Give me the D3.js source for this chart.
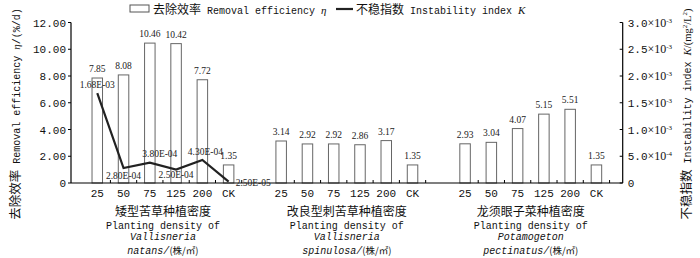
<!DOCTYPE html>
<html><head><meta charset="utf-8">
<script src="https://cdn.jsdelivr.net/npm/d3@7"></script>
<style>
html,body{margin:0;padding:0;background:#fff;}
svg{display:block;}
</style></head>
<body>
<svg id="chart" width="700" height="258"></svg>
<script>
// ---------------- data ----------------
const densities = ["25", "50", "75", "125", "200", "CK"];
const groupNames = [
  ["矮型苦草种植密度", "Planting density of", "Vallisneria", "natans"],
  ["改良型刺苦草种植密度", "Planting density of", "Vallisneria", "spinulosa"],
  ["龙须眼子菜种植密度", "Planting density of", "Potamogeton", "pectinatus"]
];
const removalVN = [7.85, 8.08, 10.46, 10.42, 7.72, 1.35];
const removalVS = [3.14, 2.92, 2.92, 2.86, 3.17, 1.35];
const removalPP = [2.93, 3.04, 4.07, 5.15, 5.51, 1.35];
const instabilityVN = [1.68e-3, 2.8e-4, 3.8e-4, 2.5e-4, 4.3e-4, 2.5e-5];
const instabilityLabels = ["1.68E-03", "2.80E-04", "3.80E-04", "2.50E-04", "4.30E-04", "2.50E-05"];
const leftTicks = [0, 2, 4, 6, 8, 10, 12];
const leftTickLabels = ["0", "2.00", "4.00", "6.00", "8.00", "10.00", "12.00"];
const rightTicks = [0, 5e-4, 1e-3, 1.5e-3, 2e-3, 2.5e-3, 3e-3];
const rightTickMant = ["0", "5.0", "1.0", "1.5", "2.0", "2.5", "3.0"];
const rightTickExp = ["", "-4", "-3", "-3", "-3", "-3", "-3"];

// ---------------- layout ----------------
const svg = d3.select("#chart");
const MONO = "'Liberation Mono','DejaVu Sans Mono',monospace";
const SERIF = "'Liberation Serif','DejaVu Serif',serif";
const CJK = "'Noto Sans CJK SC',sans-serif";
const x0 = 71, x1 = 622.7, yBase = 183, yTop = 22.5;

const removal = [removalVN, removalVS, removalPP];
// slot keys: blank, 6 bars, blank, 6 bars, blank, 6 bars, blank
const keys = [];
keys.push("b0");
removal.forEach((g, gi) => {
  densities.forEach(d => keys.push("g" + gi + "-" + d));
  keys.push("b" + (gi + 1));
});
const x = d3.scalePoint().domain(keys).range([x0, x1]);
const step = x.step();
const yL = d3.scaleLinear().domain([0, 12]).range([yBase, yTop]);
const yR = d3.scaleLinear().domain([0, 3e-3]).range([yBase, yTop]);

const bars = [];
removal.forEach((g, gi) => g.forEach((v, i) => bars.push({key: "g" + gi + "-" + densities[i], v, d: densities[i]})));

// bars
const barW = 10.5;
svg.append("g").selectAll("rect").data(bars).join("rect")
  .attr("x", d => x(d.key) - barW / 2)
  .attr("y", d => yL(d.v))
  .attr("width", barW)
  .attr("height", d => yBase - yL(d.v))
  .attr("fill", "#fff")
  .attr("stroke", "#666")
  .attr("stroke-width", 1);

// bar value labels
svg.append("g").selectAll("text").data(bars).join("text")
  .attr("x", d => x(d.key))
  .attr("y", d => yL(d.v) - 6)
  .attr("text-anchor", "middle")
  .attr("font-family", SERIF)
  .attr("font-size", 9.5)
  .attr("fill", "#222")
  .text(d => d.v.toFixed(2));

// x axis line
svg.append("line").attr("x1", x0).attr("x2", x1).attr("y1", yBase).attr("y2", yBase)
  .attr("stroke", "#000").attr("stroke-width", 1.2);
// x ticks between categories (inside)
svg.append("g").selectAll("line").data(bars).join("line")
  .attr("x1", d => x(d.key) + step / 2).attr("x2", d => x(d.key) + step / 2)
  .attr("y1", yBase).attr("y2", yBase - 3)
  .attr("stroke", "#000").attr("stroke-width", 1);
// x tick labels
svg.append("g").selectAll("text").data(bars).join("text")
  .attr("x", d => x(d.key)).attr("y", yBase + 14)
  .attr("text-anchor", "middle")
  .attr("font-family", MONO).attr("font-size", 11).attr("fill", "#111")
  .text(d => d.d);

// left axis
svg.append("line").attr("x1", x0).attr("x2", x0).attr("y1", yBase).attr("y2", yL(12))
  .attr("stroke", "#000").attr("stroke-width", 1.2);
svg.append("g").selectAll("line").data(leftTicks).join("line")
  .attr("x1", x0 - 3).attr("x2", x0).attr("y1", d => yL(d)).attr("y2", d => yL(d))
  .attr("stroke", "#000");
svg.append("g").selectAll("text").data(leftTicks).join("text")
  .attr("x", x0 - 5).attr("y", d => yL(d) + 4)
  .attr("text-anchor", "end")
  .attr("font-family", MONO).attr("font-size", 11).attr("fill", "#111")
  .text((d, i) => leftTickLabels[i]);

// right axis
svg.append("line").attr("x1", x1).attr("x2", x1).attr("y1", yBase).attr("y2", yR(3e-3))
  .attr("stroke", "#000").attr("stroke-width", 1.2);
svg.append("g").selectAll("line").data(rightTicks).join("line")
  .attr("x1", x1 - 3).attr("x2", x1).attr("y1", d => yR(d)).attr("y2", d => yR(d))
  .attr("stroke", "#000");
const rt = svg.append("g").selectAll("text").data(rightTicks).join("text")
  .attr("x", x1 + 5).attr("y", d => yR(d) + 4)
  .attr("font-family", MONO).attr("font-size", 11).attr("fill", "#111");
rt.each(function(d, i) {
  const t = d3.select(this);
  t.append("tspan").text(rightTickMant[i]);
  if (rightTickExp[i]) {
    t.append("tspan").attr("font-family", SERIF).attr("font-size", 12).text("×10");
    t.append("tspan").attr("font-size", 7).attr("dy", -4).attr("font-family", SERIF).text(rightTickExp[i]);
  }
});

// instability line
const pts = instabilityVN.map((v, i) => ({x: x("g0-" + densities[i]), y: yR(v), lab: instabilityLabels[i]}));
svg.append("path").datum(pts)
  .attr("d", d3.line().x(d => d.x).y(d => d.y))
  .attr("fill", "none").attr("stroke", "#222").attr("stroke-width", 2.2);
const place = [[0, -5, "middle"], [0, 11, "middle"], [10, -6, "middle"], [0, 8, "middle"], [3, -5, "middle"], [7, 4, "start"]];
svg.append("g").selectAll("text").data(pts).join("text")
  .attr("x", (d, i) => d.x + place[i][0])
  .attr("y", (d, i) => d.y + place[i][1])
  .attr("text-anchor", (d, i) => place[i][2])
  .attr("font-family", SERIF).attr("font-size", 9.5).attr("fill", "#222")
  .text(d => d.lab);

// group titles
groupNames.forEach((g, gi) => {
  const cx = (x("g" + gi + "-25") + x("g" + gi + "-CK")) / 2;
  const t = svg.append("g").attr("text-anchor", "middle").attr("fill", "#111");
  t.append("text").attr("x", cx).attr("y", 216).attr("font-family", CJK).attr("font-size", 12).text(g[0]);
  t.append("text").attr("x", cx).attr("y", 229).attr("font-family", MONO).attr("font-size", 10).text(g[1]);
  t.append("text").attr("x", cx).attr("y", 240).attr("font-family", MONO).attr("font-size", 10).attr("font-style", "italic").text(g[2]);
  const l4 = t.append("text").attr("x", cx).attr("y", 253.5).attr("font-family", MONO).attr("font-size", 10);
  l4.append("tspan").attr("font-style", "italic").text(g[3] + "/");
  l4.append("tspan").attr("font-family", CJK).attr("font-size", 9.5).text("(株/㎡)");
});

// axis titles
const lt = svg.append("text").attr("transform", "translate(20,114) rotate(-90)")
  .attr("text-anchor", "middle").attr("fill", "#111").attr("font-family", MONO).attr("font-size", 10);
lt.append("tspan").attr("font-family", CJK).attr("font-size", 12.5).text("去除效率");
lt.append("tspan").text(" Removal efficiency  ");
lt.append("tspan").attr("font-family", SERIF).attr("font-style", "italic").attr("font-size", 11).text("η");
lt.append("tspan").text("/(%/d)");

const rtt = svg.append("text").attr("transform", "translate(691,114) rotate(-90)")
  .attr("text-anchor", "middle").attr("fill", "#111").attr("font-family", MONO).attr("font-size", 10);
rtt.append("tspan").attr("font-family", CJK).attr("font-size", 12.5).text("不稳指数");
rtt.append("tspan").text(" Instability index ");
rtt.append("tspan").attr("font-family", SERIF).attr("font-style", "italic").attr("font-size", 11).text("K");
rtt.append("tspan").attr("font-family", SERIF).attr("font-size", 10.5).text("/(mg");
rtt.append("tspan").attr("font-family", SERIF).attr("font-size", 7).attr("dy", -4).text("2");
rtt.append("tspan").attr("font-family", SERIF).attr("font-size", 10.5).attr("dy", 4).text("/L");
rtt.append("tspan").attr("font-family", SERIF).attr("font-size", 7).attr("dy", -4).text("2");
rtt.append("tspan").attr("font-family", SERIF).attr("font-size", 10.5).attr("dy", 4).text(")");

// legend
const lg = svg.append("g");
lg.append("rect").attr("x", 130).attr("y", 5).attr("width", 19).attr("height", 7)
  .attr("fill", "#fff").attr("stroke", "#555");
const l1 = lg.append("text").attr("x", 153).attr("y", 13.5).attr("fill", "#111").attr("font-family", MONO).attr("font-size", 10);
l1.append("tspan").attr("font-family", CJK).attr("font-size", 12).text("去除效率");
l1.append("tspan").text(" Removal efficiency ");
l1.append("tspan").attr("font-family", SERIF).attr("font-style", "italic").attr("font-size", 11).text("η");
lg.append("line").attr("x1", 336).attr("x2", 353).attr("y1", 9).attr("y2", 9)
  .attr("stroke", "#222").attr("stroke-width", 2.2);
const l2 = lg.append("text").attr("x", 356).attr("y", 13.5).attr("fill", "#111").attr("font-family", MONO).attr("font-size", 10);
l2.append("tspan").attr("font-family", CJK).attr("font-size", 12).text("不稳指数");
l2.append("tspan").text(" Instability index ");
l2.append("tspan").attr("font-family", SERIF).attr("font-style", "italic").attr("font-size", 11).text("K");
</script>
</body></html>
